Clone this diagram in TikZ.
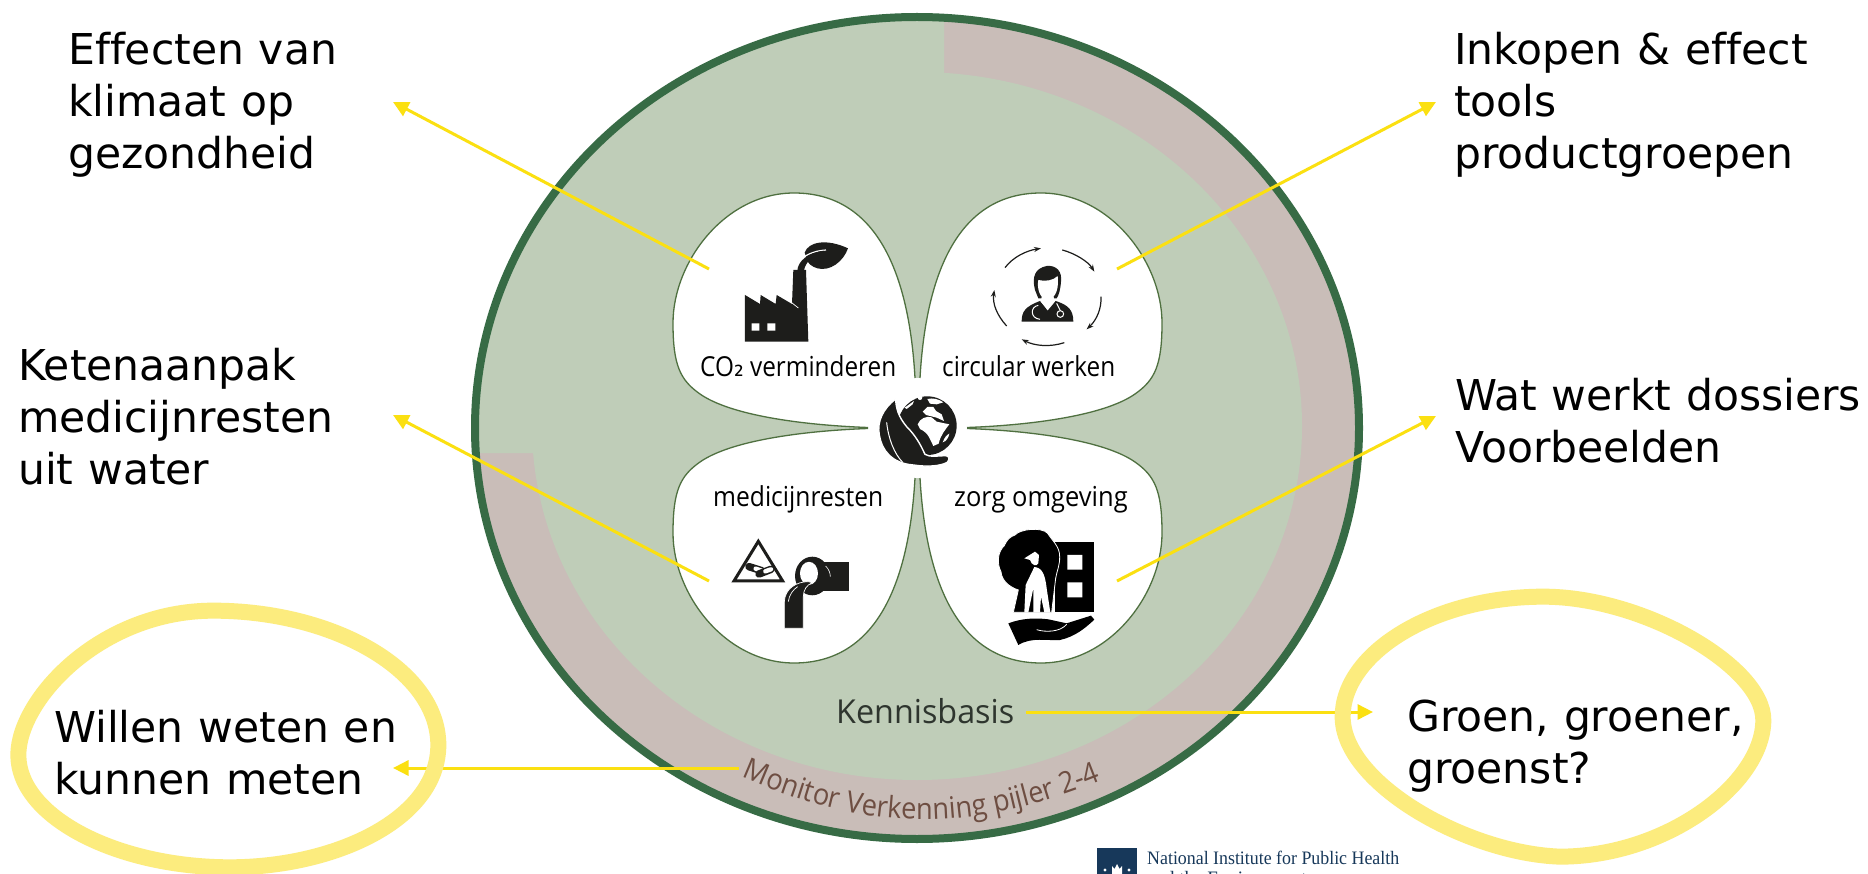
\documentclass[tikz,border=0pt]{standalone}
\usepackage{fontspec}
\usepackage{graphicx}
\usetikzlibrary{arrows.meta,decorations.text}
\setmainfont{DejaVu Sans}[Ligatures=NoCommon,WordSpace=1.09]
\newfontfamily\petalfont{Open Sans}
\newfontfamily\monfont[FakeStretch=0.92]{Open Sans}
\newfontfamily\logofont{Liberation Serif}
\definecolor{leafgreen}{HTML}{BFCDB8}
\definecolor{ringpink}{HTML}{C9BDB8}
\definecolor{ringgreen}{HTML}{376B45}
\definecolor{petalline}{HTML}{4F7040}
\definecolor{arrowyellow}{HTML}{FBE011}
\definecolor{halo}{HTML}{FCEC7E}
\definecolor{iconblack}{HTML}{1D1D1B}
\definecolor{logoblue}{HTML}{17385A}
\definecolor{monbrown}{HTML}{6E4E42}
\definecolor{kennisgray}{HTML}{2E352E}
\tikzset{
  x=1pt,y=-1pt,
  biglabel/.style={anchor=base west,inner sep=0pt,align=left,text=black,font=\fontsize{42.5}{52}\selectfont},
  petallabel/.style={anchor=base west,inner sep=0pt,text=black,font=\petalfont\fontsize{27.5}{30}\selectfont},
  connector/.style={draw=arrowyellow,line width=3pt,-{Triangle[length=15.5pt,width=15pt]}},
  haloline/.style={draw=halo,line width=16pt},
  zoomed/.style={x=0.33333pt,y=-0.33333pt},
  icon/.style={fill=iconblack,draw=none},
  cyclearrow/.style={draw=iconblack,line width=1.2pt,-{Stealth[length=7pt,width=5pt]}},
}
\newcommand{\fitw}[2]{\resizebox{#1pt}{\height}{#2}}
\begin{document}
\begin{tikzpicture}
\useasboundingbox (0,0) rectangle (1868,874);
\fill[white] (0,0) rectangle (1868,874);
% ---- big circle with ring
\begin{scope}
  \clip (917,428) ellipse [x radius=442pt,y radius=411pt];
  \fill[ringpink] (0,0) rectangle (1868,874);
  \fill[leafgreen] (917,426) ellipse [x radius=385pt,y radius=354pt];
  \fill[leafgreen] (0,0) -- (944,0) -- (944,73) -- (533,453) -- (0,453) -- cycle;
\end{scope}
\draw[ringgreen,line width=8pt] (917,428) ellipse [x radius=442pt,y radius=411pt];
% ---- petals
\foreach \sx/\sy in {1/1,-1/1,1/-1,-1/-1}{
  \begin{scope}[shift={(917.5,428)},xscale=\sx,yscale=\sy]
    \fill[white] (-2.5,-50) .. controls (-7.5,-138) and (-32.5,-235) .. (-123.5,-235)
      .. controls (-192.5,-235) and (-244.5,-166) .. (-244.5,-105)
      .. controls (-244.5,-63) and (-237.5,-48) .. (-217.5,-34)
      .. controls (-187.5,-13) and (-117.5,-3) .. (-49.5,-0.5) -- (0,0) -- cycle;
  \end{scope}
}
\fill[white] (917.5,428) circle [radius=50pt];
\foreach \sx/\sy in {1/1,-1/1,1/-1,-1/-1}{
  \begin{scope}[shift={(917.5,428)},xscale=\sx,yscale=\sy]
    \draw[petalline,line width=1.3pt] (-2.5,-50) .. controls (-7.5,-138) and (-32.5,-235) .. (-123.5,-235)
      .. controls (-192.5,-235) and (-244.5,-166) .. (-244.5,-105)
      .. controls (-244.5,-63) and (-237.5,-48) .. (-217.5,-34)
      .. controls (-187.5,-13) and (-117.5,-3) .. (-49.5,-0.5);
  \end{scope}
}
% ---- factory icon
\begin{scope}[zoomed,shift={(2190,690)}]
  \fill[icon] (45,195) -- (90,222) -- (92,195) -- (137,222) -- (140,195) -- (186,222)
    -- (190,120) -- (228,120) -- (235,335) -- (45,335) -- cycle;
  \draw[white,line width=0.7pt] (185,218) -- (205,234);
  \fill[white] (65,280) rectangle (88,302) (112,280) rectangle (136,302);
  \fill[icon] (224,68) .. controls (235,35) and (290,25) .. (354,55)
    .. controls (340,95) and (300,125) .. (262,115)
    .. controls (245,110) and (235,100) .. (232,92) -- cycle;
  \draw[white,line width=1.2pt] (200,104) .. controls (215,78) and (250,62) .. (288,60);
  \fill[icon] (202,122) .. controls (204,92) and (235,68) .. (282,62)
    .. controls (250,75) and (226,95) .. (222,122) -- cycle;
\end{scope}
% ---- doctor icon
\begin{scope}[zoomed,shift={(2955,720)}]
  \fill[icon] (110,245) .. controls (110,215) and (120,200) .. (165,183) -- (188,212) -- (212,183)
    .. controls (250,195) and (265,210) .. (265,245) -- cycle;
  \fill[icon] (150,150) .. controls (140,110) and (150,85) .. (185,78)
    .. controls (215,75) and (232,95) .. (228,125) .. controls (226,150) and (222,165) .. (215,175)
    -- (160,175) -- cycle;
  \fill[white] (160,120) .. controls (180,125) and (205,122) .. (218,108)
    .. controls (222,140) and (215,175) .. (188,180) .. controls (165,178) and (155,145) .. (160,120) -- cycle;
  \fill[white] (170,170) -- (206,170) -- (208,185) -- (188,208) -- (168,185) -- cycle;
  \draw[white,line width=1pt] (160,196) .. controls (135,200) and (135,235) .. (165,238);
  \draw[white,line width=1pt] (215,190) -- (226,212);
  \draw[white,line width=1pt] (226,222) circle [radius=10];
  \draw[cyclearrow] (60,83) .. controls (85,50) and (125,32) .. (168,25);
  \draw[cyclearrow] (232,30) .. controls (270,40) and (310,65) .. (328,95);
  \draw[cyclearrow] (348,170) .. controls (350,205) and (335,240) .. (305,268);
  \draw[cyclearrow] (238,308) .. controls (195,322) and (150,318) .. (110,298);
  \draw[cyclearrow] (65,258) .. controls (35,225) and (22,190) .. (28,150);
\end{scope}
% ---- globe icon
\begin{scope}[zoomed,shift={(2610,1155)}]
  \fill[icon] (172,122) circle [radius=88];
  \fill[white] (143,118) .. controls (150,100) and (170,92) .. (185,97) -- (200,110) -- (238,118)
    .. controls (225,135) and (212,150) .. (206,176) -- (190,183)
    .. controls (180,165) and (178,145) .. (150,132) -- cycle;
  \fill[white] (158,80) -- (172,66) -- (190,66) -- (198,78) -- (215,88) -- (222,108) -- (200,98) -- (168,90) -- cycle;
  \fill[white] (172,42) .. controls (190,38) and (205,42) .. (220,52) -- (200,58) -- (180,56) -- cycle;
  \fill[white] (104,68) -- (132,48) -- (128,58) -- (110,72) -- cycle;
  \fill[white] (150,38) circle [radius=7];
  \fill[white] (218,172) .. controls (224,156) and (232,148) .. (238,146) .. controls (236,158) and (228,170) .. (218,172) -- cycle;
  \draw[fill=iconblack,draw=white,line width=1.4pt] (77,42) .. controls (40,70) and (20,110) .. (28,150)
    .. controls (35,195) and (65,235) .. (130,240)
    .. controls (170,246) and (210,244) .. (232,232) .. controls (240,222) and (238,212) .. (226,212)
    .. controls (205,212) and (180,218) .. (165,208)
    .. controls (150,175) and (135,150) .. (110,125) .. controls (85,95) and (78,70) .. (77,42) -- cycle;
  \draw[white,line width=1pt] (50,112) .. controls (55,160) and (72,205) .. (98,232);
\end{scope}
% ---- warning and pipe icon
\begin{scope}[zoomed,shift={(2175,1590)}]
  \draw[draw=iconblack,line width=3pt,line join=miter,fill=white] (100,34) -- (173,153) -- (27,153) -- cycle;
  \draw[iconblack,line width=7.5pt,line cap=round] (72,110) -- (110,122);
  \draw[white,line width=4.4pt,line cap=round] (92,116) -- (110,122);
  \draw[iconblack,line width=7.5pt,line cap=round] (102,132) -- (138,118);
  \draw[white,line width=4.4pt,line cap=round] (121,124) -- (138,118);
  \fill[icon] (290,95) rectangle (372,182);
  \fill[icon] (262,138) ellipse [x radius=17.3pt,y radius=19.3pt];
  \fill[white] (252,130) ellipse [x radius=9pt,y radius=11.5pt];
  \draw[white,line width=0.6pt] (302,108) .. controls (312,118) and (316,130) .. (316,140);
  \fill[icon,draw=white,line width=0.7pt] (178,295) -- (178,215) .. controls (180,175) and (215,155) .. (250,155)
    -- (262,158) .. controls (245,165) and (235,180) .. (235,200) -- (235,295) -- cycle;
  \draw[white,line width=0.7pt] (190,215) .. controls (192,195) and (205,178) .. (218,170);
\end{scope}
% ---- tree, building and hand icon
\begin{scope}[zoomed,shift={(2955,1575)}]
  \fill[black] (210,50) rectangle (327,262);
  \fill[white] (247,90) rectangle (292,134) (247,172) rectangle (292,217);
  \draw[fill=black,draw=white,line width=0.8pt] (90,30) .. controls (105,12) and (170,5) .. (188,25)
    .. controls (200,45) and (225,65) .. (224,95) .. controls (225,120) and (215,140) .. (212,160)
    -- (200,262) -- (85,262) -- (100,195) .. controls (70,185) and (50,165) .. (48,140)
    .. controls (35,115) and (38,80) .. (58,62) .. controls (65,45) and (75,35) .. (90,30) -- cycle;
  \fill[white] (118,100) -- (150,80) -- (162,90) -- (160,115) .. controls (155,125) and (140,122) .. (135,105) -- cycle;
  \fill[white] (148,126) .. controls (170,128) and (180,145) .. (185,190) -- (196,262) -- (178,262)
    -- (168,215) -- (165,262) -- (145,262) -- (145,190) -- (130,262) -- (118,262)
    -- (122,180) -- cycle;
  \fill[black] (70,295) .. controls (110,280) and (150,278) .. (190,283) -- (245,295)
    -- (318,272) -- (328,284) .. controls (300,310) and (270,335) .. (225,345)
    .. controls (190,348) and (140,335) .. (100,360) -- cycle;
  \draw[white,line width=0.8pt] (155,314) .. controls (180,322) and (225,322) .. (245,298);
\end{scope}
% ---- labels inside the clover
\node[petallabel] (co) at (700,376.5) {\fitw{196}{CO{\rmfamily ₂} verminderen}};
\node[petallabel] (circ) at (942,376.5) {\fitw{173}{circular werken}};
\node[petallabel] (medi) at (713,506) {\fitw{170}{medicijnresten}};
\node[petallabel] (zorg) at (954,506) {\fitw{173.5}{zorg omgeving}};
\node[anchor=base west,inner sep=0pt,text=kennisgray,font=\petalfont\fontsize{33}{36}\selectfont] (kennis) at (836,723) {\fitw{178}{Kennisbasis}};
\path[decorate,decoration={text along path,text align=center,
   text={|\monfont\fontsize{29.6}{32}\selectfont\color{monbrown}|Monitor Verkenning pijler 2-4}}]
   (742,777) .. controls (870,833) and (970,833) .. (1100,781);
% ---- outer labels
\node[biglabel] (effecten) at (68,168.5) {Effecten van\\klimaat op\\gezondheid};
\node[biglabel] (inkopen) at (1454,168.5) {Inkopen \& effect\\tools\\productgroepen};
\node[biglabel] (keten) at (18,484) {Ketenaanpak\\medicijnresten\\uit water};
\node[biglabel] (wat) at (1455,462) {Wat werkt dossiers\\Voorbeelden};
\node[biglabel] (willen) at (54,794) {Willen weten en\\kunnen meten};
\node[biglabel] (groen) at (1407,783) {Groen, groener,\\groenst?};
% ---- connector ends
\coordinate (s1) at (709,269); \coordinate (t1) at (393,102);
\coordinate (s2) at (1117,269); \coordinate (t2) at (1436,102);
\coordinate (s3) at (709,581); \coordinate (t3) at (393,415);
\coordinate (s4) at (1117,581); \coordinate (t4) at (1436,416);
\coordinate (s5) at (1026,712); \coordinate (t5) at (1373,712);
\coordinate (s6) at (739,768); \coordinate (t6) at (393,768);
\foreach \i in {1,...,6}{\draw[connector] (s\i) -- (t\i);}
% ---- highlighted ellipses
\begin{scope}[zoomed,shift={(0,1770)}]
  \draw[haloline] (55,495) .. controls (55,330) and (300,62) .. (640,62)
    .. controls (1000,62) and (1315,240) .. (1315,465)
    .. controls (1315,690) and (1000,832) .. (690,832)
    .. controls (350,832) and (55,680) .. (55,495) -- cycle;
\end{scope}
\begin{scope}[zoomed,shift={(3900,1710)}]
  \draw[haloline] (128,440) .. controls (128,250) and (400,80) .. (730,80)
    .. controls (1030,80) and (1390,290) .. (1390,450)
    .. controls (1390,640) and (1100,860) .. (780,860)
    .. controls (500,850) and (128,640) .. (128,440) -- cycle;
\end{scope}
% ---- logo, cut by the lower edge as in the picture
\begin{scope}
  \clip (0,0) rectangle (1868,874);
  \fill[logoblue] (1097,848) rectangle (1137,880);
  \fill[white] (1112,874) -- (1112,866) -- (1114.5,869) -- (1117,864) -- (1119.5,869) -- (1122,866) -- (1122,874) -- cycle;
  \fill[white] (1105,870) circle [radius=1.6pt] (1129,870) circle [radius=1.6pt];
  \node[anchor=base west,inner sep=0pt,align=left,text=logoblue,font=\logofont\fontsize{19}{20}\selectfont] (rivm) at (1147,884) {\fitw{252}{National Institute for Public Health}\\and the Environment};
\end{scope}
\end{tikzpicture}
\end{document}
